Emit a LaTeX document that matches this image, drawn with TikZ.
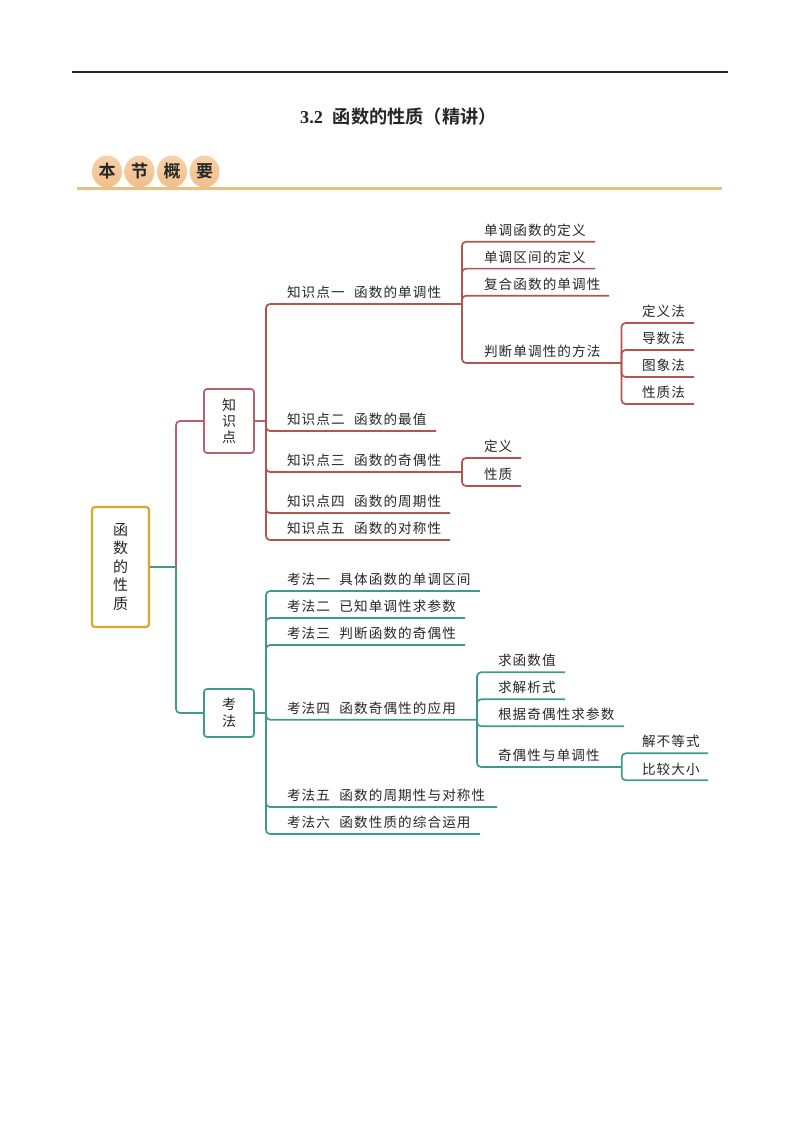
\documentclass[tikz,border=0pt]{standalone}
\usepackage{fontspec}
\setmainfont{Noto Sans CJK SC}[LetterSpace=8]
\newfontfamily\titlefont{Noto Sans CJK SC}[BoldFont={* Bold}]
\newfontfamily\numfont{Liberation Serif}
\usepackage{tikz}
\usetikzlibrary{shapes.geometric}

\definecolor{rootgold}{HTML}{DFA42A}
\definecolor{zsred}{HTML}{B8606C}
\definecolor{zsdark}{HTML}{B4544E}
\definecolor{kfteal}{HTML}{3F9A8E}
\definecolor{eggfill}{HTML}{F2BE88}
\definecolor{barfill}{HTML}{EDBE82}

\begin{document}
\begin{tikzpicture}[x=1pt,y=-1pt,line join=round]
    \tikzstyle{every node}=[font=\fontsize{13.6}{16}\selectfont,text=black!85]
    \tikzstyle{label}=[anchor=south west,inner sep=0pt,outer sep=0pt,minimum height=23pt]
    \tikzstyle{box}=[draw,rounded corners=3pt,fill=white,inner sep=0pt,align=center,line width=1.7pt]
    \tikzstyle{egg}=[ellipse,top color=eggfill!70,bottom color=eggfill,minimum width=30pt,minimum height=32pt,inner sep=0pt]
    \tikzstyle{red line}=[draw=zsdark,line width=1.7pt,rounded corners=4pt]
    \tikzstyle{teal line}=[draw=kfteal,line width=1.7pt,rounded corners=4pt]

    \useasboundingbox (0,0) rectangle (800,1132);

    % Draw the page head
    \coordinate (rule-l) at (72,72);
    \coordinate (rule-r) at (728,72);
    \draw[line width=1.6pt,black!85] (rule-l) -- (rule-r);
    \node (title) at (398.5,117) {\fontsize{18.2}{20}\selectfont\bfseries\numfont 3.2\hspace{10pt}\titlefont 函数的性质（精讲）};
    \coordinate (bar-l) at (77,188);
    \coordinate (bar-r) at (722,188);
    \draw[line width=3pt,barfill] (bar-l) -- (bar-r);
    \foreach \name / \x / \txt in {1/107/本,2/139.5/节,3/172/概,4/204.5/要}
        \node[egg] (E-\name) at (\x,171.5) {\fontsize{17}{20}\selectfont\bfseries\titlefont\txt};

    % Draw the boxes
    \node[box,draw=rootgold,line width=2.2pt,minimum width=57pt,minimum height=120pt,font=\fontsize{15}{18.5}\selectfont] (root) at (120.5,567)
        {函\\数\\的\\性\\质};
    \node[box,draw=zsred,minimum width=50pt,minimum height=64pt,font=\fontsize{14}{16.3}\selectfont] (zs) at (229,421) {知\\识\\点};
    \node[box,draw=kfteal,minimum width=50pt,minimum height=48pt,font=\fontsize{14}{17}\selectfont] (kf) at (229,713) {考\\法};

    % Connect the root with the two boxes
    \coordinate (trunk) at (176,567);
    \draw[teal line] (root) -- (trunk);
    \draw[draw=zsred,line width=1.7pt,rounded corners=4pt] (trunk) |- (zs);
    \draw[teal line] (trunk) |- (kf);

    % Draw the first branch
    \coordinate (zs-s) at (266,421);
    \draw[draw=zsred,line width=1.7pt] (zs) -- (zs-s);
    \foreach \name / \y / \e / \txt in {1/304/462/知识点一\hspace{9.5pt}函数的单调性,2/431/436/知识点二\hspace{9.5pt}函数的最值,
        3/472/462/知识点三\hspace{9.5pt}函数的奇偶性,4/513/450/知识点四\hspace{9.5pt}函数的周期性,5/540/450/知识点五\hspace{9.5pt}函数的对称性} {
        \coordinate (Z-\name) at (\e,\y);
        \node[label] (ZT-\name) at (287,\y) {\txt};
        \draw[red line] (zs-s) |- (Z-\name);
    }

    % Draw the leaves of the monotonic branch
    \foreach \name / \y / \e / \txt in {1/241.7/595/单调函数的定义,2/268.6/595/单调区间的定义,3/295.7/609/复合函数的单调性,4/363/621.5/判断单调性的方法} {
        \coordinate (A-\name) at (\e,\y);
        \node[label] (AT-\name) at (484,\y) {\txt};
        \draw[red line] (Z-1) |- (A-\name);
    }
    \foreach \name / \y / \txt in {1/323/定义法,2/350/导数法,3/377/图象法,4/404/性质法} {
        \coordinate (B-\name) at (694,\y);
        \node[label] (BT-\name) at (642,\y) {\txt};
        \draw[red line] (A-4) |- (B-\name);
    }
    \foreach \name / \y / \txt in {1/458/定义,2/486/性质} {
        \coordinate (C-\name) at (521,\y);
        \node[label] (CT-\name) at (484,\y) {\txt};
        \draw[red line] (Z-3) |- (C-\name);
    }

    % Draw the second branch
    \coordinate (kf-s) at (266,713);
    \draw[draw=kfteal,line width=1.7pt] (kf) -- (kf-s);
    \foreach \name / \y / \e / \txt in {1/591/480/考法一\hspace{9.5pt}具体函数的单调区间,2/618/465/考法二\hspace{9.5pt}已知单调性求参数,3/645/465/考法三\hspace{9.5pt}判断函数的奇偶性,
        4/719.7/477/考法四\hspace{9.5pt}函数奇偶性的应用,5/807/497/考法五\hspace{9.5pt}函数的周期性与对称性,6/834/480/考法六\hspace{9.5pt}函数性质的综合运用} {
        \coordinate (K-\name) at (\e,\y);
        \node[label] (KT-\name) at (287,\y) {\txt};
        \draw[teal line] (kf-s) |- (K-\name);
    }

    % Draw the leaves of the parity branch
    \foreach \name / \y / \e / \txt in {1/672.3/565/求函数值,2/699.3/565/求解析式,3/726.3/624/根据奇偶性求参数,4/767/621.7/奇偶性与单调性} {
        \coordinate (D-\name) at (\e,\y);
        \node[label] (DT-\name) at (498,\y) {\txt};
        \draw[teal line] (K-4) |- (D-\name);
    }
    \foreach \name / \y / \txt in {1/753.3/解不等式,2/780.3/比较大小} {
        \coordinate (F-\name) at (708,\y);
        \node[label] (FT-\name) at (642,\y) {\txt};
        \draw[teal line] (D-4) |- (F-\name);
    }
\end{tikzpicture}
\end{document}
